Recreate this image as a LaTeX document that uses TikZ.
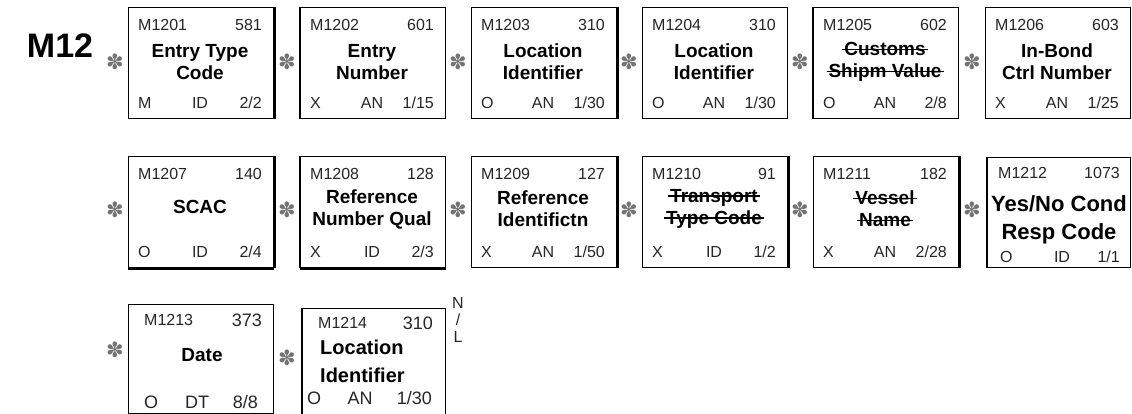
\documentclass[tikz,border=0pt]{standalone}
\usepackage{fontspec}
\setmainfont{Liberation Sans}
\newfontfamily\dejavu{DejaVu Sans}
\usetikzlibrary{calc}
\newcommand\strk[1]{\setbox0\hbox{#1}\rlap{\kern-2pt\rule[0.3em]{\dimexpr\wd0+4pt\relax}{1.4pt}}\box0}
\tikzset{
  segbox/.style={draw, line width=1.1pt, minimum width=145pt, minimum height=111pt, anchor=north west, inner sep=0pt},
  thickedge/.style={line width=2.8pt},
  small/.style={font=\fontsize{16}{18}\selectfont, inner sep=0pt, text=black!85},
  title/.style={font=\bfseries\fontsize{19}{22}\selectfont, align=center, inner sep=0pt},
  ast/.style={font=\dejavu\fontsize{21}{21}\selectfont, text=black!55, inner sep=0pt},
}
% #1 name, #2 L,T, #3 id, #4 num, #5 title, #6 req, #7 type, #8 len, #9 title y offset
\newcommand\segfield[9]{%
  \node[segbox] (#1) at (#2) {};
  \node[small, anchor=west] (#1id) at ($(#1.north west)+(10,18)$) {#3};
  \node[small, anchor=east] (#1num) at ($(#1.north west)+(134,18)$) {#4};
  \node[title] (#1title) at ($(#1.north west)+(72,#9)$) {#5};
  \node[small, anchor=west] (#1req) at ($(#1.north west)+(10,96)$) {#6};
  \node[small] (#1type) at ($(#1.north west)+(72,96)$) {#7};
  \node[small, anchor=east] (#1len) at ($(#1.north west)+(134,96)$) {#8};
}
\begin{document}
\begin{tikzpicture}[x=1pt,y=-1pt]
\useasboundingbox[fill=white] (0,0) rectangle (1132,414);

\node[font=\bfseries\fontsize{34}{34}\selectfont, inner sep=0pt] (m12) at (60,46) {M12};

% Row 1
\node[ast] (a1) at (115,62) {✽};
\segfield{b1}{128,7}{M1201}{581}{Entry Type\\Code}{M}{ID}{2/2}{55}
\node[ast] (a2) at (287,62) {✽};
\segfield{b2}{300,7}{M1202}{601}{Entry\\Number}{X}{AN}{1/15}{55}
\node[ast] (a3) at (458,62) {✽};
\segfield{b3}{471,7}{M1203}{310}{Location\\Identifier}{O}{AN}{1/30}{55}
\node[ast] (a4) at (629,62) {✽};
\segfield{b4}{642,7}{M1204}{310}{Location\\Identifier}{O}{AN}{1/30}{55}
\node[ast] (a5) at (800,62) {✽};
\segfield{b5}{813,7}{M1205}{602}{\strk{Customs}\\\strk{Shipm Value}}{O}{AN}{2/8}{55}
\node[ast] (a6) at (972,62) {✽};
\segfield{b6}{985,7}{M1206}{603}{In-Bond\\Ctrl Number}{X}{AN}{1/25}{55}

\draw[thickedge] (b1.north east) -- (b1.south east);
\draw[thickedge] (b2.north west) -- (b2.south west);
\draw[thickedge] (b3.north east) -- (b3.south east);
\draw[thickedge] (b5.north west) -- (b5.south west);

% Row 2
\node[ast] (a7) at (115,210) {✽};
\segfield{b7}{128,156}{M1207}{140}{SCAC}{O}{ID}{2/4}{51}
\node[ast] (a8) at (287,210) {✽};
\segfield{b8}{300,156}{M1208}{128}{Reference\\Number Qual}{X}{ID}{2/3}{53}
\node[ast] (a9) at (458,210) {✽};
\segfield{b9}{471,156}{M1209}{127}{Reference\\Identifictn}{X}{AN}{1/50}{53}
\node[ast] (a10) at (629,210) {✽};
\segfield{b10}{642,156}{M1210}{91}{\strk{Transport}\\\strk{Type Code}}{X}{ID}{1/2}{53}
\node[ast] (a11) at (800,210) {✽};
\segfield{b11}{813,156}{M1211}{182}{\strk{Vessel}\\\strk{Name}}{X}{AN}{2/28}{53}
\node[ast] (a12) at (972,210) {✽};

\draw[thickedge] (b7.north east) -- (b7.south east);
\draw[thickedge] (b7.south west) -- (b7.south east);
\draw[thickedge] (b8.north west) -- (b8.south west);
\draw[thickedge] (b8.south west) -- (b8.south east);
\draw[thickedge] (b9.north east) -- (b9.south east);
\draw[thickedge] (b10.north east) -- (b10.south east);
\draw[thickedge] (b11.north east) -- (b11.south east);

% M1212
\node[segbox, minimum width=143pt, minimum height=110pt] (b12) at (987,157) {};
\draw[thickedge] (b12.north west) -- (b12.south west);
\node[small, anchor=west] (b12id) at ($(b12.north west)+(11,16)$) {M1212};
\node[small, anchor=east] (b12num) at ($(b12.north west)+(133,16)$) {1073};
\node[title, font=\bfseries\fontsize{22}{28}\selectfont] (b12title) at ($(b12.north west)+(72,63)$) {Yes/No Cond\\Resp Code};
\node[small, anchor=west] (b12req) at ($(b12.north west)+(13,100)$) {O};
\node[small] (b12type) at ($(b12.north west)+(75,100)$) {ID};
\node[small, anchor=east] (b12len) at ($(b12.north west)+(133,100)$) {1/1};

% Row 3
\node[ast] (a13) at (115,350) {✽};
\node[segbox, minimum height=109pt] (b13) at (128,304) {};
\node[small, anchor=west] (b13id) at ($(b13.north west)+(16,16)$) {M1213};
\node[small, anchor=east, font=\fontsize{18}{20}\selectfont] (b13num) at ($(b13.north west)+(134,16)$) {373};
\node[title] (b13title) at ($(b13.north west)+(74,51)$) {Date};
\node[small, anchor=west, font=\fontsize{18}{20}\selectfont] (b13req) at ($(b13.north west)+(16,98)$) {O};
\node[small, font=\fontsize{18}{20}\selectfont] (b13type) at ($(b13.north west)+(69,98)$) {DT};
\node[small, anchor=east, font=\fontsize{18}{20}\selectfont] (b13len) at ($(b13.north west)+(130,98)$) {8/8};

\node[ast] (a14) at (287,358) {✽};
\node[segbox, minimum width=143pt, minimum height=106pt] (b14) at (302,308) {};
\draw[thickedge] (b14.north west) -- (b14.south west);
\node[small, anchor=west] (b14id) at ($(b14.north west)+(16,15)$) {M1214};
\node[small, anchor=east, font=\fontsize{18}{20}\selectfont] (b14num) at ($(b14.north west)+(131,15)$) {310};
\node[title, align=left, anchor=west, font=\bfseries\fontsize{20}{28}\selectfont] (b14title) at ($(b14.north west)+(18,53)$) {Location\\Identifier};
\node[small, anchor=west, font=\fontsize{18}{20}\selectfont] (b14req) at ($(b14.north west)+(5,90)$) {O};
\node[small, font=\fontsize{18}{20}\selectfont] (b14type) at ($(b14.north west)+(58,90)$) {AN};
\node[small, anchor=east, font=\fontsize{18}{20}\selectfont] (b14len) at ($(b14.north west)+(130,90)$) {1/30};

\node[small, align=center, font=\fontsize{16}{17}\selectfont] (nl) at (458,320) {N\\/\\L};
\end{tikzpicture}
\end{document}
